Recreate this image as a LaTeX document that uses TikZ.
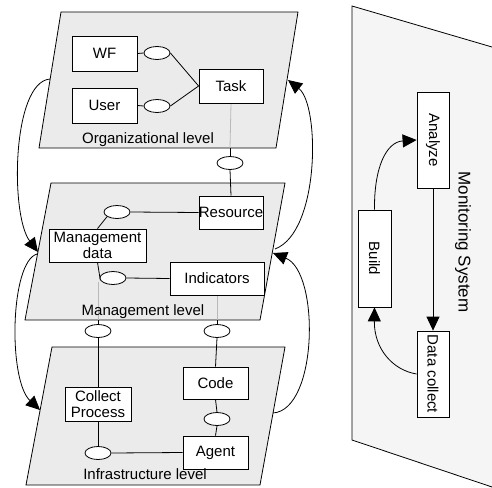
\documentclass[tikz,border=0pt]{standalone}
\usepackage{fontspec}
\setmainfont{Liberation Sans}
\usetikzlibrary{shapes.geometric,arrows.meta}
\pgfdeclarelayer{bg}
\pgfsetlayers{bg,main}
\begin{document}
\begin{tikzpicture}[x=1pt,y=-1pt,
  box/.style={draw,fill=white,line width=0.8pt,inner sep=0pt,font=\fontsize{15}{16}\selectfont,align=center},
  port/.style={draw,fill=white,ellipse,minimum width=26pt,minimum height=13pt,inner sep=0pt,line width=0.8pt},
  plane/.style={draw,fill=gray!16,line width=0.8pt},
  lnk/.style={line width=0.8pt},
  hid/.style={line width=0.8pt,draw=gray!55},
  flow/.style={line width=0.8pt,-{Triangle[length=14pt,width=13pt]}},
  lbl/.style={font=\fontsize{15}{16}\selectfont,inner sep=0pt}]
\useasboundingbox (0,0) rectangle (492,487);

% nodes: organizational level
\node[box,minimum width=65pt,minimum height=35pt] (wf) at (104.5,53.5) {WF};
\node[box,minimum width=65pt,minimum height=35pt] (user) at (104.5,105.5) {User};
\node[box,minimum width=64pt,minimum height=34pt] (task) at (231,86) {Task};
% management level
\node[box,minimum width=64pt,minimum height=33pt] (res) at (231,212.5) {Resource};
\node[box,minimum width=97pt,minimum height=33pt] (md) at (97.5,245.5) {Management\\data};
\node[box,minimum width=94pt,minimum height=33pt] (ind) at (217,278.5) {Indicators};
% infrastructure level
\node[box,minimum width=66pt,minimum height=34pt] (cp) at (98,404) {Collect\\Process};
\node[box,minimum width=65pt,minimum height=32pt] (code) at (215.5,383) {Code};
\node[box,minimum width=65pt,minimum height=33pt] (agent) at (215.5,452.5) {Agent};

% ports
\node[port] (e1) at (157,53) {};
\node[port] (e2) at (157,106) {};
\node[port] (e3) at (230,163) {};
\node[port] (e4) at (117,212) {};
\node[port] (e5) at (113,278) {};
\node[port] (e6) at (98,331) {};
\node[port] (e7) at (217,331) {};
\node[port] (e8) at (217,419) {};
\node[port] (e9) at (98,453) {};

% plane crossing points
\coordinate (ob) at (230,148);
\coordinate (mb1) at (98,320);
\coordinate (mb2) at (217,320);
\coordinate (mdb) at (98,282);

\begin{pgfonlayer}{bg}
% monitoring system plane
\fill[gray!8] (352,6) -- (492,47) -- (492,487) -- (352,440) -- cycle;
\draw[line width=0.8pt] (492,47) -- (352,6) -- (352,440) -- (492,487);
% level planes
\draw[plane] (61,12) -- (298,12) -- (276,148) -- (39,148) -- cycle;
\draw[plane] (51,183) -- (285,183) -- (260,320) -- (25,320) -- cycle;
\draw[plane] (52,347) -- (285,347) -- (260,485) -- (26,485) -- cycle;
% hidden (grey) segments
\draw[hid] (task.south) -- (ob);
\draw[hid] (mdb) -- (mb1);
\draw[hid] (ind.south) -- (mb2);
% connectors
\draw[lnk] (wf.east) -- (e1.west);
\draw[lnk] (e1.east) -- (task.west);
\draw[lnk] (user.east) -- (e2.west);
\draw[lnk] (e2.east) -- (task.west);
\draw[lnk] (ob) -- (e3.north);
\draw[lnk] (e3.south) -- (res.north);
\draw[lnk] (e4.east) -- (res.west);
\draw[lnk] (e4.205) -- (md.north);
\draw[lnk] (md.south) -- (e5.190);
\draw[lnk] (e5.east) -- (ind.west);
\draw[lnk] (mb1) -- (e6.north);
\draw[lnk] (mb2) -- (e7.north);
\draw[lnk] (e6.south) -- (cp.north);
\draw[lnk] (e7.south) -- (code.north);
\draw[lnk] (cp.south) -- (e9.north);
\draw[lnk] (code.south) -- (e8.north);
\draw[lnk] (e8.south) -- (agent.north);
\draw[lnk] (e9.east) -- (agent.west);
\end{pgfonlayer}

% level labels
\node[lbl] (ol) at (148,140) {Organizational level};
\node[lbl] (ml) at (143,312) {Management level};
\node[lbl] (il) at (145,474) {Infrastructure level};

% plane-to-plane curves
\coordinate (oL) at (50,79);
\coordinate (mL) at (38,252);
\coordinate (mL2) at (37,254);
\coordinate (iL) at (40,410);
\coordinate (mR) at (275,249);
\coordinate (oR) at (288,80);
\coordinate (iR) at (273,413);
\coordinate (mR2) at (273,253);
\draw[flow] (oL) .. controls (12,82) and (10,215) .. (mL);
\draw[flow] (mL2) .. controls (10,262) and (8,380) .. (iL);
\draw[flow] (mR) .. controls (320,232) and (320,105) .. (oR);
\draw[flow] (iR) .. controls (318,410) and (320,272) .. (mR2);

% monitoring system (rotated: west = page top, east = page bottom, south = page left)
\node[box,rotate=-90,minimum width=96pt,minimum height=32pt] (an) at (433,140) {Analyze};
\node[box,rotate=-90,minimum width=97pt,minimum height=33pt] (bu) at (374.5,258.5) {Build};
\node[box,rotate=-90,minimum width=86pt,minimum height=32pt] (dc) at (433,374) {Data collect};
\node[lbl,rotate=-90,font=\fontsize{17}{18}\selectfont] (ms) at (463,242) {Monitoring System};
\draw[flow] (an.east) -- (dc.west);
\draw[flow] (bu.west) .. controls (374,168) and (386,142) .. (an.south);
\draw[flow] (dc.south) .. controls (392,370) and (374,348) .. (bu.east);
\end{tikzpicture}
\end{document}
